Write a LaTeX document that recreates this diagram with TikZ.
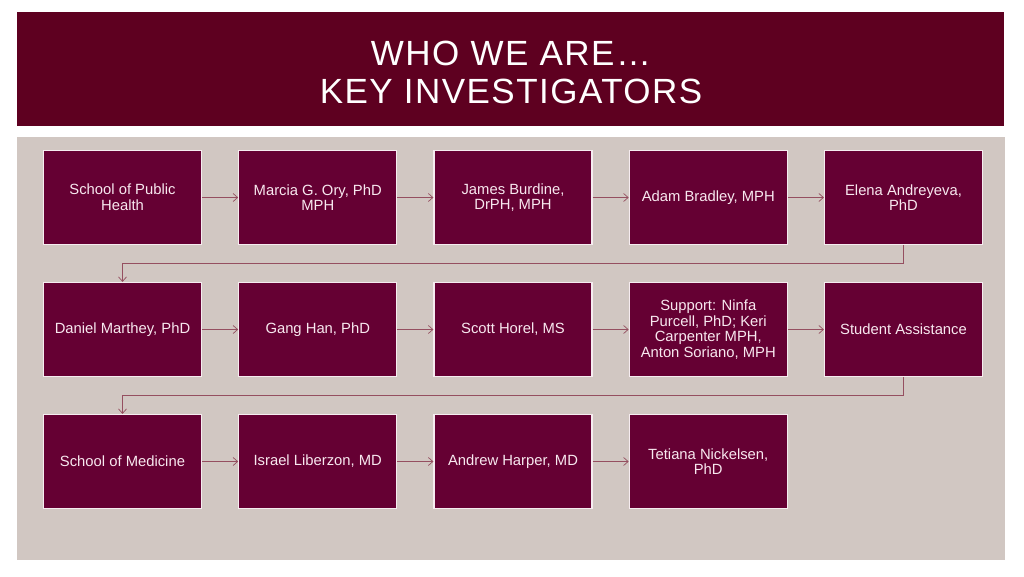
\documentclass[tikz,border=0pt]{standalone}
\usepackage{fontspec}
\setmainfont{Liberation Sans}
\newfontfamily\titlefont[LetterSpace=4.2]{Liberation Sans}
\usetikzlibrary{arrows.meta}
\definecolor{bandcol}{HTML}{5E0020}
\definecolor{panelcol}{HTML}{D1C7C2}
\definecolor{boxcol}{HTML}{650033}
\definecolor{boxtext}{HTML}{F8E8EF}
\definecolor{boxline}{HTML}{F6ECF0}
\definecolor{conncol}{HTML}{954F60}
\tikzset{
  box/.style={rectangle, draw=boxline, line width=1.2pt, fill=boxcol,
    minimum width=158pt, minimum height=94pt, inner sep=0pt,
    align=center, text=boxtext,
    font=\fontsize{14.8}{15.7}\selectfont},
  conn/.style={draw=conncol, line width=0.8pt,
    -{Straight Barb[length=4.5pt,width=8pt,line width=0.7pt]}},
}
\begin{document}
\begin{tikzpicture}[x=1pt,y=-1pt]
\useasboundingbox (0,0) rectangle (1024,576);
\fill[white] (0,0) rectangle (1024,576);
\fill[bandcol] (17,12) rectangle (1004,125.5);
\fill[panelcol] (17,137) rectangle (1005,560);
\node[text=white, align=center, font=\titlefont\fontsize{35}{38}\selectfont] (title) at (511,72) {WHO WE ARE\ldots\\KEY INVESTIGATORS};
% row 1
\node[box] (a1) at (122.5,197.5) {School of Public\\Health};
\node[box] (a2) at (317.75,197.5) {Marcia G. Ory, PhD\\MPH};
\node[box] (a3) at (513,197.5) {James Burdine,\\DrPH, MPH};
\node[box] (a4) at (708.25,197.5) {Adam Bradley, MPH};
\node[box] (a5) at (903.5,197.5) {Elena Andreyeva,\\PhD};
% row 2
\node[box] (b1) at (122.5,329.5) {Daniel Marthey, PhD};
\node[box] (b2) at (317.75,329.5) {Gang Han, PhD};
\node[box] (b3) at (513,329.5) {Scott Horel, MS};
\node[box] (b4) at (708.25,329.5) {Support: Ninfa\\Purcell, PhD; Keri\\Carpenter MPH,\\Anton Soriano, MPH};
\node[box] (b5) at (903.5,329.5) {Student Assistance};
% row 3
\node[box] (c1) at (122.5,461.5) {School of Medicine};
\node[box] (c2) at (317.75,461.5) {Israel Liberzon, MD};
\node[box] (c3) at (513,461.5) {Andrew Harper, MD};
\node[box] (c4) at (708.25,461.5) {Tetiana Nickelsen,\\PhD};
% connectors
\draw[conn] (a1) -- (a2);
\draw[conn] (a2) -- (a3);
\draw[conn] (a3) -- (a4);
\draw[conn] (a4) -- (a5);
\draw[conn] (a5.south) -- ++(0,18) -| (b1.north);
\draw[conn] (b1) -- (b2);
\draw[conn] (b2) -- (b3);
\draw[conn] (b3) -- (b4);
\draw[conn] (b4) -- (b5);
\draw[conn] (b5.south) -- ++(0,18) -| (c1.north);
\draw[conn] (c1) -- (c2);
\draw[conn] (c2) -- (c3);
\draw[conn] (c3) -- (c4);
\end{tikzpicture}
\end{document}
